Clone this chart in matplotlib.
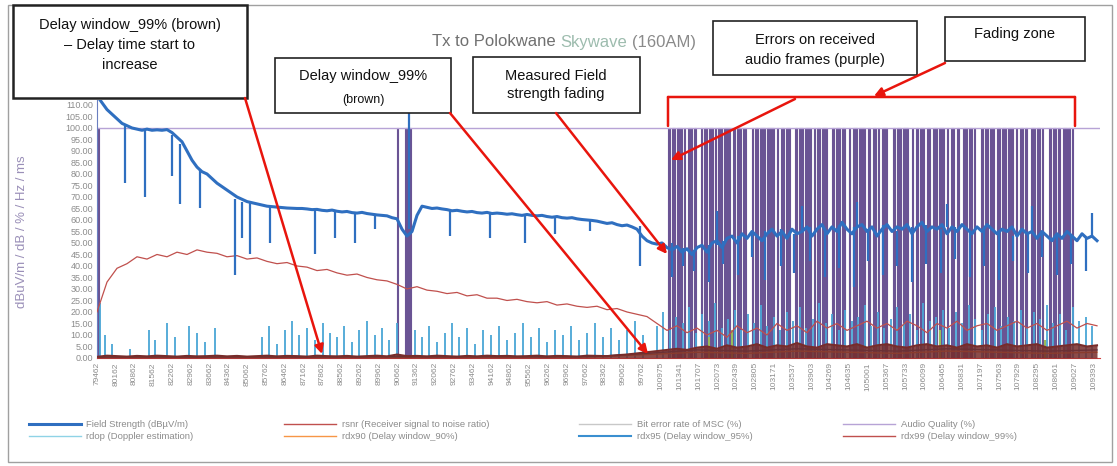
"""
Tx to Polokwane Skywave (160AM) - field strength / delay / audio quality log
"""
import numpy as np
import matplotlib.pyplot as plt
from matplotlib.patches import Rectangle, FancyArrowPatch

plt.rcParams['font.family'] = ['Liberation Sans', 'DejaVu Sans']

W, H = 1117, 466

# x axis runs in "samples" 0..1003 (one per pixel column of the original log)
x_labels = ['79462', '80162', '80862', '81562', '82262', '82962', '83662', '84362',
            '85062', '85762', '86462', '87162', '87862', '88562', '89262', '89962',
            '90662', '91362', '92062', '92762', '93462', '94162', '94862', '95562',
            '96262', '96962', '97662', '98362', '99062', '99762',
            '100975', '101341', '101707', '102073', '102439', '102805', '103171',
            '103537', '103903', '104269', '104635', '105001', '105367', '105733',
            '106099', '106465', '106831', '107197', '107563', '107929', '108295',
            '108661', '109027', '109393']

# Field Strength (dBuV/m), one value every 5 samples
field_strength = [
    114, 111, 108, 106, 104, 102, 101, 100, 99.5, 99, 99.5, 99, 99.2, 99, 99.3, 98, 96, 94, 90, 86, 83,
    81, 80, 78, 76, 74.5, 73, 71.5, 70, 69, 68, 67.5, 67, 66.5, 66, 65.8, 65.6, 65.4, 65.2, 65.1, 65,
    65, 64.8, 64.5, 64.6, 64.2, 64, 64.3, 63.8, 63.5, 63.7, 63.2, 63, 63.3, 62.8, 62.5, 62.2, 62, 61.8, 61, 60.5,
    56, 53, 55, 62, 66, 65.5, 65, 65.2, 64.8, 64.5, 64, 64.2, 63.8, 63.5, 63.7, 63.2, 63, 63.3, 62.8, 63,
    62.8, 62.5, 62.7, 62.3, 62, 62.4, 62, 61.8, 62, 61.5, 61.2, 61.5, 61, 60.8, 61, 60.5, 60.2, 60, 59.8, 59.5,
    59, 58.5, 58.8, 58, 57.5, 57.8, 57, 56, 53, 51, 50, 49.5, 50, 48, 47, 48.5, 46, 47.5, 45, 48,
    49, 46, 50, 51, 48, 52, 53, 50, 54, 52, 55, 53, 51, 54, 56, 53, 55, 52, 56, 54,
    55, 57, 53, 56, 58, 54, 57, 55, 59, 56, 54, 57, 58, 55, 57, 53, 56, 58, 55, 57,
    56, 58, 54, 57, 59, 55, 57, 56, 58, 54, 57, 55, 58, 56, 54, 57, 55, 58, 56, 54,
    56, 55, 57, 53, 56, 54, 55, 52, 55, 53, 51, 54, 52, 55, 53, 51, 54, 52, 53, 51]

# short fades / peaks of the field strength trace: position, low, high
fs_spike_x = [28, 48, 75, 83, 103, 138, 145, 153, 173, 218, 238, 258, 278, 312, 353, 393, 428,
              458, 493, 543, 575, 586, 597, 612, 620, 626, 641, 655, 668, 684, 697, 705, 713,
              728, 742, 757, 760, 771, 786, 800, 815, 829, 844, 850, 858, 873, 887, 902, 916,
              931, 935, 945, 960, 974, 989, 995]
fs_spike_lo = [76, 70, 79, 67, 65, 36, 52, 45, 50, 45, 52, 50, 56, 56, 53, 52, 50,
               54, 55, 40, 35, 40, 38, 33, 49, 41, 36, 44, 34, 40, 37, 55, 42,
               35, 39, 31, 56, 42, 36, 40, 33, 41, 37, 57, 43, 35, 40, 34, 42,
               37, 55, 44, 36, 41, 38, 52]
fs_spike_hi = [101, 99.5, 97, 93, 82, 69, 68, 67.5, 66, 64.5, 64, 63.3, 62.5, 109, 63.8, 63, 62,
               61.5, 60, 57.5, 50, 48, 47, 49, 64, 51, 53, 54, 55, 56, 54, 66, 57,
               56, 58, 57, 68, 56, 58, 55, 57, 58, 56, 67, 57, 55, 57, 55, 53,
               54, 66, 55, 53, 54, 52, 63]

# rsnr (dB), one value every 10 samples
rsnr = [20, 33, 39, 41, 44, 43, 45, 44, 46, 45,
        47, 46, 45.5, 44, 44.5, 43, 43.5, 42, 41, 41.5,
        40, 39.5, 38, 38.5, 37, 36, 36.5, 35, 34, 33.5,
        32, 30, 31, 29.5, 29, 28, 28.5, 27, 27.5, 26,
        26, 25, 25.5, 24.5, 24, 24.5, 23, 23.5, 22.5, 22,
        22.5, 21, 21.5, 20, 19, 18, 15, 12, 14, 11,
        13, 10, 12, 9, 14, 11, 13, 10, 15, 12,
        14, 11, 16, 13, 15, 12, 14, 16, 13, 15,
        12, 16, 14, 11, 15, 13, 16, 12, 14, 15,
        12, 14, 16, 13, 15, 12, 14, 16, 13, 15, 14]

# rdx99 (delay window 99 %, ms), one value every 10 samples
rdx99 = [0.5, 1, 0.8, 0.6, 0.9, 0.7, 1, 0.8, 0.6, 0.9, 0.7, 0.8, 1, 0.7, 0.9, 0.6, 0.8, 1,
         0.7, 0.9, 0.8, 0.6, 1, 0.8, 0.7, 0.9, 0.6, 0.8, 1, 0.7, 1.5, 0.8, 0.9, 0.7, 1, 0.8,
         0.6, 0.9, 0.7, 1, 0.8, 0.9, 0.7, 0.8, 1, 0.7, 0.9, 0.8, 0.6, 1, 0.9, 0.8, 1.2, 1.5, 2,
         2.5, 3, 3.5, 4, 3.5, 4.5, 5, 4, 5.5, 4.5, 5, 6, 4.5, 5.5, 5, 6.5, 5, 4.5, 6, 5.5,
         5, 6, 4.5, 5.5, 6, 5, 4.5, 5.5, 6, 5, 5.5, 4.5, 6, 5, 5.5, 4.5, 6, 5, 5.5, 6,
         4.5, 5, 5.5, 6, 5, 5.5]

# rdx90 / rdx95 (ms), one value every 50 samples
rdx90 = [0.3, 0.3, 0.4, 0.3, 0.3, 0.4, 0.3, 0.4, 0.3, 0.4, 0.5, 1.5, 2.5, 2, 3, 2.5, 2, 3, 2.5, 2, 2.5]
rdx95 = [0.4, 0.5, 0.4, 0.5, 0.4, 0.5, 0.6, 0.5, 0.6, 0.5, 0.7, 2, 3.5, 3, 4, 3.5, 3, 4, 3.5, 3, 3.5]

# rdop (Doppler estimation, Hz) bursts: position, height
rdop_x = [3, 8, 15, 33, 52, 58, 70, 78, 92, 100, 108, 118, 165, 172, 180, 188, 195, 202, 210,
          218, 226, 233, 240, 247, 255, 262, 270, 278, 285, 292, 300, 318, 325, 332, 340, 348,
          355, 362, 370, 378, 386, 394, 402, 410, 418, 426, 434, 442, 450, 458, 466, 474, 482,
          490, 498, 506, 514, 522, 530, 538, 546, 560, 566, 573, 579, 586, 592, 599, 605, 612,
          618, 625, 631, 638, 644, 651, 657, 664, 670, 677, 683, 690, 696, 703, 709, 716, 722,
          729, 735, 742, 748, 755, 761, 768, 774, 781, 787, 794, 800, 807, 813, 820, 826, 833,
          839, 846, 852, 859, 865, 872, 878, 885, 891, 898, 904, 911, 917, 924, 930, 937, 943,
          950, 956, 963, 969, 976, 982, 989, 995]
rdop_h = [24, 10, 6, 4, 12, 8, 15, 9, 14, 11, 7, 13, 9, 14, 6, 12, 16, 10, 13,
          8, 15, 11, 9, 14, 7, 12, 16, 10, 13, 8, 15, 12, 9, 14, 7, 11,
          15, 9, 13, 6, 12, 10, 14, 8, 11, 15, 9, 13, 7, 12, 10, 14, 8,
          11, 15, 9, 13, 8, 12, 16, 10, 14, 20, 12, 18, 15, 22, 11, 19, 16,
          24, 13, 17, 21, 12, 19, 15, 23, 14, 18, 12, 20, 16, 22, 13, 17, 24,
          15, 19, 12, 21, 16, 18, 23, 14, 20, 13, 17, 22, 15, 19, 12, 24, 16,
          18, 21, 13, 20, 15, 23, 17, 12, 19, 22, 14, 18, 16, 21, 13, 20, 17,
          23, 15, 19, 12, 22, 16, 18, 14]

# Bit error rate of MSC (%) bursts
ber_x = [612, 635, 843, 948]
ber_h = [9, 12, 12, 8]

# Audio Quality (%) drop-outs from 100 to 0: start, width
aq_level = 100
aq_drop_x = [0, 300, 308, 571, 575, 580, 587, 591, 597, 604, 607, 612, 618, 621, 627, 636,
             640, 646, 655, 658, 663, 670, 680, 684, 689, 698, 702, 708, 717, 720, 725, 735,
             739, 745, 752, 756, 762, 771, 776, 781, 785, 796, 800, 806, 815, 819, 823, 830,
             836, 842, 850, 854, 860, 866, 872, 877, 884, 888, 893, 900, 905, 911, 919, 923,
             928, 934, 940, 945, 952, 956, 961, 966, 971, 975]
aq_drop_w = [2, 1, 6, 2, 3, 5, 1, 4, 2, 1, 3, 4, 1, 4, 6, 2,
             4, 3, 1, 3, 5, 7, 1, 3, 4, 2, 4, 6, 1, 3, 5, 2,
             4, 3, 1, 4, 6, 2, 3, 1, 5, 2, 4, 5, 1, 2, 4, 3,
             4, 5, 1, 3, 2, 4, 3, 1, 2, 3, 4, 3, 4, 5, 1, 3,
             2, 4, 3, 1, 2, 3, 2, 4, 2, 1]

C_FS = '#2f6fc0'
C_SNR = '#c0504d'
C_BER = '#9bbb59'
C_AQ = '#6a5494'
C_RDOP = '#4aa6d6'
C_90 = '#f79646'
C_95 = '#2c4d75'
C_99 = '#772c2a'


def main():
    fig = plt.figure(figsize=(W / 100, H / 100), dpi=100)
    fig.patch.set_facecolor('white')
    ax = fig.add_axes([97 / W, 0.2318, 1003 / W, 0.5528])

    # audio quality: thin line at 100 plus drop-out bands
    ax.bar(aq_drop_x, aq_level, width=aq_drop_w, align='edge', color=C_AQ,
           edgecolor=C_AQ, linewidth=0.8, zorder=1)
    ax.plot([0, 1003], [aq_level, aq_level], color='#b7a3d6', lw=1.0, zorder=1)

    ax.vlines(rdop_x, 0, rdop_h, color=C_RDOP, lw=1.3, zorder=2)
    ax.vlines(ber_x, 0, ber_h, color=C_BER, lw=1.5, zorder=2)

    ax.plot(np.arange(len(rsnr)) * 10, rsnr, color=C_SNR, lw=0.9, zorder=3)
    ax.plot(np.arange(len(rdx90)) * 50, rdx90, color=C_90, lw=1, zorder=3)
    ax.plot(np.arange(len(rdx95)) * 50, rdx95, color=C_95, lw=1, zorder=3)

    x99 = np.arange(len(rdx99)) * 10
    ax.fill_between(x99, 0, rdx99, color=C_99, alpha=0.85, lw=0, zorder=4)
    ax.plot(x99, rdx99, color=C_99, lw=1.5, zorder=4)

    ax.plot(np.arange(len(field_strength)) * 5, field_strength, color=C_FS, lw=2.2, zorder=5)
    ax.vlines(fs_spike_x, fs_spike_lo, fs_spike_hi, color=C_FS, lw=1.6, zorder=5)

    ax.set_xlim(0, 1003)
    ax.set_ylim(0, 112)
    ax.set_yticks(np.arange(0, 111, 5))
    ax.set_yticklabels(['%.2f' % v for v in np.arange(0, 111, 5)], fontsize=6.5, color='#8c8c8c')
    ax.set_xticks(np.arange(len(x_labels)) * 18.8)
    ax.set_xticklabels(x_labels, rotation=90, fontsize=6, color='#8c8c8c')
    ax.tick_params(length=0, pad=3)
    for s in ['top', 'right']:
        ax.spines[s].set_visible(False)
    ax.spines['left'].set_color('#6a7fc0')
    ax.spines['bottom'].set_color('#d04040')

    # legend, Excel style (row-wise order)
    h = {}
    h['fs'], = ax.plot([], [], color=C_FS, lw=2.2, label='Field Strength (dBµV/m)')
    h['snr'], = ax.plot([], [], color=C_SNR, lw=1, label='rsnr (Receiver signal to noise ratio)')
    h['ber'], = ax.plot([], [], color='#c8c8c8', lw=1, label='Bit error rate of MSC (%)')
    h['aq'], = ax.plot([], [], color='#b7a3d6', lw=1, label='Audio Quality (%)')
    h['rdop'], = ax.plot([], [], color='#8fd3e6', lw=1, label='rdop (Doppler estimation)')
    h['r90'], = ax.plot([], [], color=C_90, lw=1, label='rdx90 (Delay window_90%)')
    h['r95'], = ax.plot([], [], color='#3a8fd0', lw=1.5, label='rdx95 (Delay window_95%)')
    h['r99'], = ax.plot([], [], color=C_SNR, lw=1, label='rdx99 (Delay window_99%)')
    order = ['fs', 'rdop', 'snr', 'r90', 'ber', 'r95', 'aq', 'r99']
    leg = fig.legend([h[k] for k in order], [h[k].get_label() for k in order],
                     loc='lower left', bbox_to_anchor=(0.018, 0.035, 0.90, 0.08), mode='expand',
                     ncol=4, frameon=False, fontsize=6.8, handlelength=5.5, handletextpad=0.6,
                     labelspacing=0.3)
    for t in leg.get_texts():
        t.set_color('#8c8c8c')

    # outer chart border
    fig.add_artist(Rectangle((8 / W, 1 - 462 / H), 1104 / W, 457 / H, transform=fig.transFigure,
                             fill=False, edgecolor='#a0a0a0', lw=1, zorder=0))

    # title, three pieces
    ty = 1 - 42 / H
    fig.text(556 / W, ty, 'Tx to Polokwane', ha='right', va='center', fontsize=12, color='#707070')
    fig.text(560 / W, ty, 'Skywave', ha='left', va='center', fontsize=12, color='#9dbcae')
    fig.text(632 / W, ty, '(160AM)', ha='left', va='center', fontsize=12, color='#8a8a8a')

    fig.text(22 / W, 1 - 232 / H, 'dBuV/m / dB / % / Hz / ms', rotation=90, ha='center',
             va='center', fontsize=9.5, color='#9a8fb8')

    def box(x0, y0, x1, y1, lw=1.2):
        fig.add_artist(Rectangle((x0 / W, 1 - y1 / H), (x1 - x0) / W, (y1 - y0) / H,
                                 transform=fig.transFigure, facecolor='white',
                                 edgecolor='#222222', lw=lw, zorder=6))

    def note(px, py, s, size=10.5):
        fig.text(px / W, 1 - py / H, s, ha='center', va='center', fontsize=size,
                 color='#111111', zorder=7)

    def arrow(p0, p1, head=True):
        fig.add_artist(FancyArrowPatch((p0[0] / W, 1 - p0[1] / H), (p1[0] / W, 1 - p1[1] / H),
                                       transform=fig.transFigure,
                                       arrowstyle='-|>' if head else '-',
                                       mutation_scale=13, color='#e8150d', lw=1.8,
                                       shrinkA=0, shrinkB=0, zorder=8))

    box(13, 5, 247, 98, lw=1.8)
    note(130, 25, 'Delay window_99% (brown)')
    note(130, 45, '– Delay time start to')
    note(130, 65, 'increase')

    box(275, 58, 451, 113)
    note(363, 76, 'Delay window_99%')
    note(363, 100, '(brown)', 9)

    box(473, 57, 640, 113)
    note(556, 76, 'Measured Field')
    note(556, 94, 'strength fading')

    box(713, 21, 917, 75)
    note(815, 40, 'Errors on received')
    note(815, 60, 'audio frames (purple)')

    box(945, 17, 1085, 61)
    note(1015, 34, 'Fading zone')

    arrow((245, 98), (322, 354))
    arrow((450, 113), (648, 354))
    arrow((556, 113), (667, 254))
    arrow((795, 99), (671, 160))
    arrow((945, 63), (874, 96))

    # bracket over the fading zone
    arrow((668, 126), (668, 97), head=False)
    arrow((668, 97), (1075, 97), head=False)
    arrow((1075, 97), (1075, 126), head=False)

    fig.savefig('out.png', dpi=100, facecolor='white')


if __name__ == "__main__":
    main()
